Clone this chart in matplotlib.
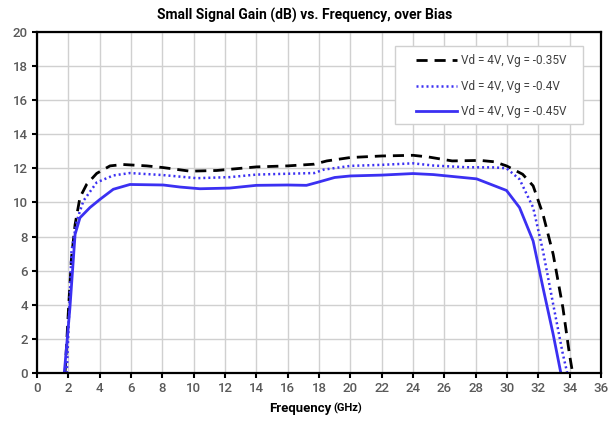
import matplotlib
matplotlib.use('Agg')
import matplotlib.pyplot as plt
from matplotlib.patches import Rectangle

plt.rcParams['font.family'] = ['Roboto', 'DejaVu Sans']

# Vd = 4V, Vg = -0.35V
freq_035 = [1.79, 2.0, 2.2, 2.43, 2.74, 3.17, 3.81, 4.66, 5.5, 7.0, 8.06, 9.76, 11.47,
            14.0, 16.0, 17.7, 18.5, 20.0, 22.0, 24.0, 25.0, 26.5, 28.3, 29.2, 29.97,
            31.0, 31.67, 32.3, 32.95, 33.57, 33.99, 34.19]
gain_035 = [0.0, 3.6, 6.76, 8.7, 10.29, 11.06, 11.7, 12.14, 12.22, 12.14, 12.04, 11.83, 11.87,
            12.08, 12.14, 12.24, 12.43, 12.63, 12.72, 12.76, 12.66, 12.43, 12.46, 12.38, 12.14,
            11.65, 10.97, 9.3, 6.96, 3.83, 1.1, 0.0]

# Vd = 4V, Vg = -0.4V
freq_040 = [1.9, 2.2, 2.53, 2.96, 3.81, 4.87, 5.93, 8.06, 10.19, 12.3, 14.0, 16.0, 17.7,
            18.3, 20.0, 22.0, 24.0, 25.3, 27.4, 29.2, 29.97, 30.8, 31.67, 32.3, 32.95,
            33.57, 33.85]
gain_040 = [0.0, 7.15, 8.9, 10.09, 11.17, 11.58, 11.72, 11.6, 11.42, 11.48, 11.63, 11.68, 11.72,
            11.92, 12.14, 12.2, 12.29, 12.16, 12.06, 12.05, 12.0, 11.36, 9.7, 7.15, 4.03,
            1.1, 0.0]

# Vd = 4V, Vg = -0.45V
freq_045 = [1.74, 2.1, 2.43, 2.74, 3.38, 4.02, 4.87, 5.93, 8.06, 9.13, 10.4, 12.3, 14.0,
            16.0, 17.2, 18.0, 19.0, 20.0, 22.0, 24.0, 25.3, 28.06, 29.97, 30.8, 31.67,
            32.3, 32.95, 33.44]
gain_045 = [0.0, 3.83, 8.13, 9.1, 9.7, 10.18, 10.77, 11.05, 11.02, 10.9, 10.8, 10.84, 11.0,
            11.02, 11.0, 11.2, 11.46, 11.55, 11.6, 11.69, 11.63, 11.38, 10.7, 9.7, 7.74,
            5.0, 2.27, 0.0]

labels = ['Vd = 4V, Vg = -0.35V', 'Vd = 4V, Vg = -0.4V', 'Vd = 4V, Vg = -0.45V']
x_ticks = list(range(0, 37, 2))
y_ticks = list(range(0, 21, 2))

fig = plt.figure(figsize=(6.09, 4.23), dpi=100)
ax = fig.add_axes([0.0608, 0.118, 0.926, 0.807])

blue = '#3b30f2'
ax.plot(freq_035, gain_035, color='black', lw=2.0, ls=(0, (4, 2.5)), label=labels[0])
ax.plot(freq_040, gain_040, color=blue, lw=1.8, ls=(0, (0.8, 1.2)), label=labels[1])
ax.plot(freq_045, gain_045, color=blue, lw=2.0, ls='-', label=labels[2])

ax.set_xlim(0, 36)
ax.set_ylim(0, 20)
ax.set_xticks(x_ticks)
ax.set_yticks(y_ticks)
ax.grid(True, color='#d0d0d0', lw=1.0)
ax.set_axisbelow(True)
for s in ax.spines.values():
    s.set_color('black')
    s.set_linewidth(1.6)
ax.tick_params(direction='out', length=3.5, width=1.5, color='black',
               labelsize=9.5, labelcolor='#595959', pad=3)
for lab in ax.get_xticklabels() + ax.get_yticklabels():
    lab.set_fontweight('medium')

# x label: "Frequency" with a smaller "(GHz)"
fig.text(0.5435, 0.027, 'Frequency', ha='right', va='baseline',
         fontsize=9.5, fontweight='bold')
fig.text(0.547, 0.027, '(GHz)', ha='left', va='baseline',
         fontsize=8, fontweight='bold')
fig.suptitle('Small Signal Gain (dB) vs. Frequency, over Bias', x=0.5, y=0.982,
             fontsize=10, fontweight='bold')

# legend box (wider side padding than matplotlib's uniform borderpad)
ax.add_patch(Rectangle((0.634, 0.729), 0.334, 0.228, transform=ax.transAxes,
                       facecolor='white', edgecolor='#d0d0d0', lw=1.0, zorder=4))
leg = ax.legend(loc='upper left', bbox_to_anchor=(0.672, 0.934), fontsize=8.5,
                handlelength=3.5, handletextpad=0.3, labelspacing=1.05,
                borderpad=0.0, borderaxespad=0.0, frameon=False)
leg.set_zorder(5)
for t in leg.get_texts():
    t.set_color('#404040')

fig.savefig('out.png', dpi=100)
